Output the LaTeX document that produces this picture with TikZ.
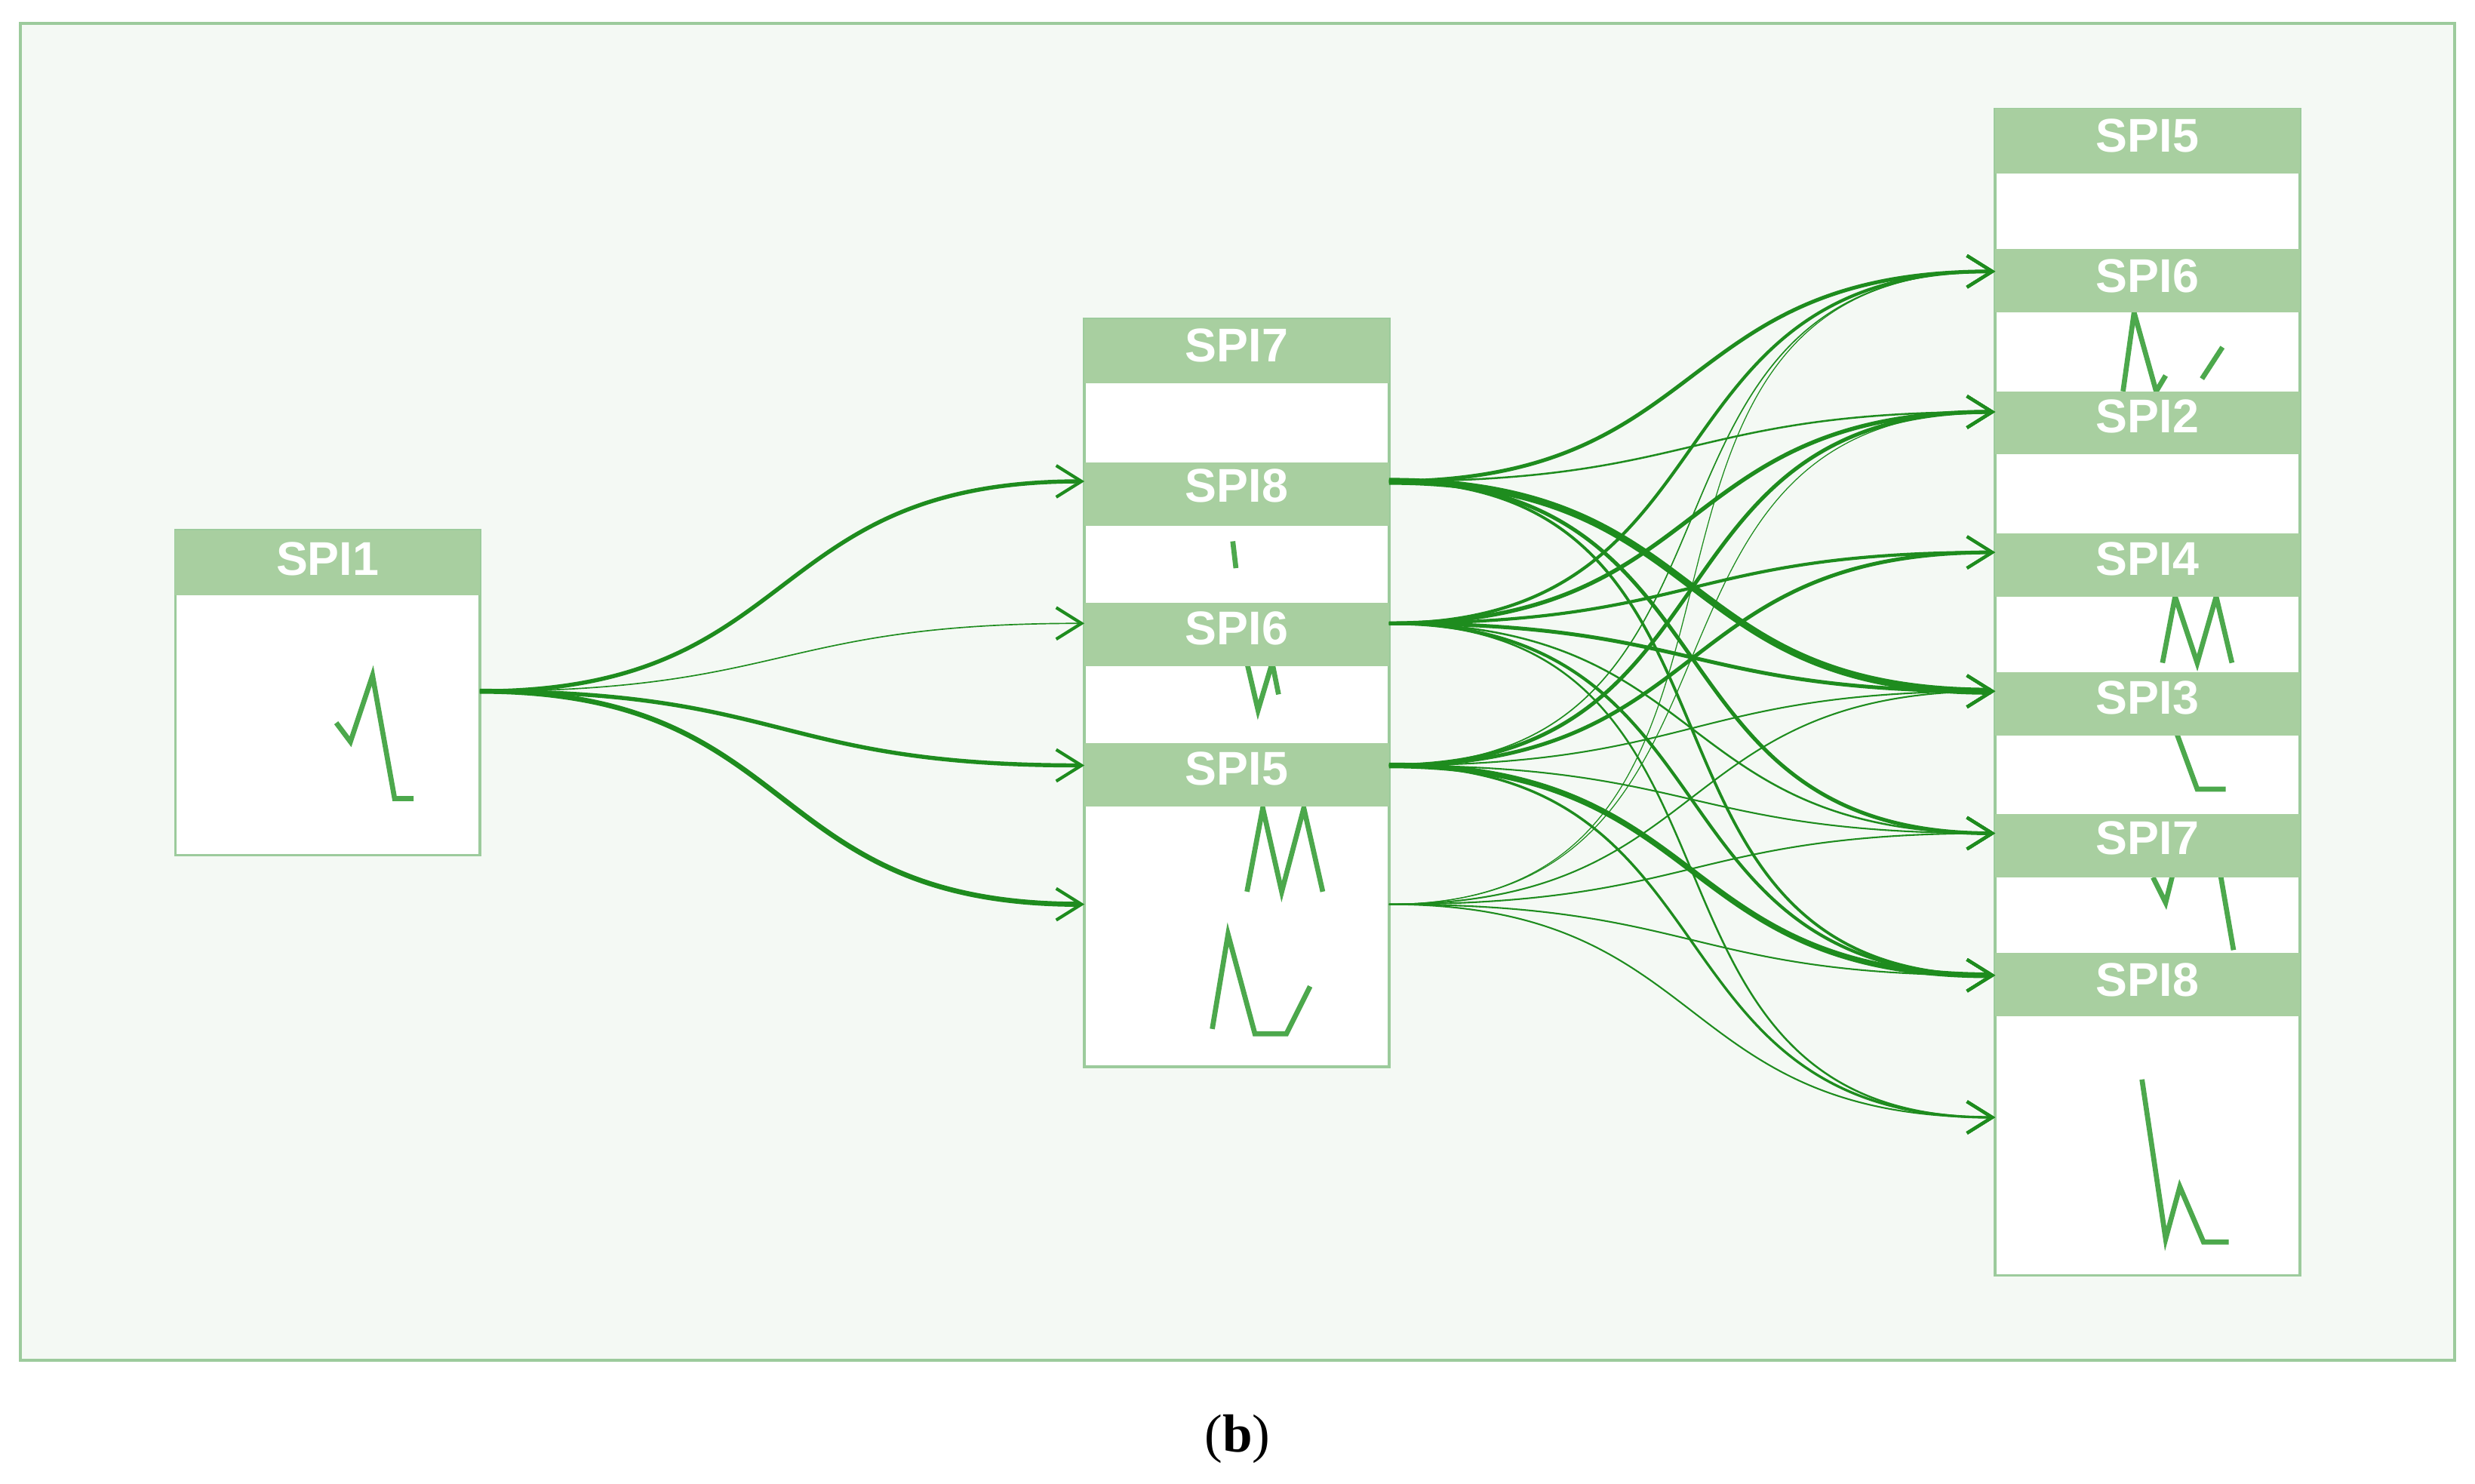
\documentclass[tikz,border=0pt]{standalone}
\usepackage{fontspec}
\setmainfont{Liberation Serif}
\newfontfamily\hdr{Liberation Sans}
\usetikzlibrary{arrows.meta}
\definecolor{bgc}{HTML}{F4F9F4}
\definecolor{frm}{HTML}{9CCB9C}
\definecolor{hdc}{HTML}{A8CFA0}
\definecolor{edg}{HTML}{1E8C1E}
\definecolor{spk}{HTML}{4CA84C}
\begin{document}
\begin{tikzpicture}[x=0.5pt,y=-0.5pt,
  box/.style={draw=frm,line width=0.8pt,fill=white},
  head/.style={fill=hdc,draw=none},
  htxt/.style={text=white,font=\hdr\bfseries\fontsize{15}{15}\selectfont,inner sep=0},
  spark/.style={draw=spk,line width=1.6pt},
  e/.style={draw=edg,line width=#1,-{Straight Barb[length=8pt,width=10pt,line width=1pt]}},
  e/.default=1pt]
\useasboundingbox (0,0) rectangle (1568,940);
\fill[bgc,draw=frm,line width=1pt] (13,15) rectangle (1555,862);
\node[font=\fontsize{17}{17}\selectfont] (cap) at (784,912) {(\textbf{b})};
% boxes
\draw[box] (111,336) rectangle (304,542);
\draw[box] (687,202) rectangle (880,676);
\draw[box] (1264,69) rectangle (1457,808);
% sparklines
\draw[spark] (213,458)--(222,470)--(236,428)--(250,506)--(262,506);
\draw[spark] (781,343)--(783,360);
\draw[spark] (790,420)--(797,450)--(806,420)--(810,440);
\draw[spark] (790,565)--(800,512)--(812,565)--(826,512)--(838,565);
\draw[spark] (768,652)--(778,592)--(795,655)--(815,655)--(830,625);
\draw[spark] (1345,248)--(1352,198)--(1366,248)--(1372,238);
\draw[spark] (1395,240)--(1408,220);
\draw[spark] (1370,420)--(1378,378)--(1392,420)--(1404,378)--(1414,420);
\draw[spark] (1378,462)--(1392,500)--(1410,500);
\draw[spark] (1364,556)--(1372,572)--(1378,548);
\draw[spark] (1406,550)--(1415,602);
\draw[spark] (1357,684)--(1372,785)--(1381,752)--(1396,787)--(1412,787);
% headers
\fill[head] (111,336) rectangle (304,377);
\node[htxt] (h1) at (207.5,354) {SPI1};
\fill[head] (687,202) rectangle (880,243); \node[htxt] (m7) at (783.5,219) {SPI7};
\fill[head] (687,293) rectangle (880,333); \node[htxt] (m8) at (783.5,308) {SPI8};
\fill[head] (687,382) rectangle (880,422); \node[htxt] (m6) at (783.5,398) {SPI6};
\fill[head] (687,471) rectangle (880,511); \node[htxt] (m5) at (783.5,487) {SPI5};
\fill[head] (1264,69) rectangle (1457,110); \node[htxt] (r5) at (1360.5,86) {SPI5};
\fill[head] (1264,158) rectangle (1457,198); \node[htxt] (r6) at (1360.5,175) {SPI6};
\fill[head] (1264,248) rectangle (1457,288); \node[htxt] (r2) at (1360.5,264) {SPI2};
\fill[head] (1264,338) rectangle (1457,378); \node[htxt] (r4) at (1360.5,354) {SPI4};
\fill[head] (1264,426) rectangle (1457,466); \node[htxt] (r3) at (1360.5,442) {SPI3};
\fill[head] (1264,516) rectangle (1457,556); \node[htxt] (r7) at (1360.5,531) {SPI7};
\fill[head] (1264,604) rectangle (1457,644); \node[htxt] (r8) at (1360.5,621) {SPI8};
% ports
\coordinate (s1) at (304,438);
\coordinate (a8) at (687,305); \coordinate (a6) at (687,395);
\coordinate (a5) at (687,485); \coordinate (ab) at (687,573);
\coordinate (o8) at (880,305); \coordinate (o6) at (880,395);
\coordinate (o5) at (880,485); \coordinate (ob) at (880,573);
\coordinate (t6) at (1264,172); \coordinate (t2) at (1264,261);
\coordinate (t4) at (1264,350); \coordinate (t3) at (1264,438);
\coordinate (t7) at (1264,528); \coordinate (t8) at (1264,618);
\coordinate (tb) at (1264,708);
\tikzset{c/.style={out=0,in=180,looseness=1.3}}
% first layer
\draw[e=1.3pt] (s1) to[c] (a8);
\draw[e=0.4pt] (s1) to[c] (a6);
\draw[e=1.3pt] (s1) to[c] (a5);
\draw[e=1.6pt] (s1) to[c] (ab);
% from SPI8
\draw[e=1.2pt] (o8) to[c] (t6);
\draw[e=0.6pt] (o8) to[c] (t2);
\draw[e=2.2pt] (o8) to[c] (t3);
\draw[e=1.2pt] (o8) to[c] (t7);
\draw[e=0.9pt] (o8) to[c] (t8);
% from SPI6
\draw[e=1pt] (o6) to[c] (t6);
\draw[e=1.3pt] (o6) to[c] (t2);
\draw[e=1pt] (o6) to[c] (t4);
\draw[e=1.2pt] (o6) to[c] (t3);
\draw[e=0.6pt] (o6) to[c] (t7);
\draw[e=1pt] (o6) to[c] (t8);
\draw[e=0.6pt] (o6) to[c] (tb);
% from SPI5
\draw[e=0.4pt] (o5) to[c] (t6);
\draw[e=1.2pt] (o5) to[c] (t2);
\draw[e=1.2pt] (o5) to[c] (t4);
\draw[e=0.5pt] (o5) to[c] (t3);
\draw[e=0.5pt] (o5) to[c] (t7);
\draw[e=1.8pt] (o5) to[c] (t8);
\draw[e=0.8pt] (o5) to[c] (tb);
% from bottom
\draw[e=0.3pt] (ob) to[c] (t6);
\draw[e=0.3pt] (ob) to[c] (t2);
\draw[e=0.5pt] (ob) to[c] (t3);
\draw[e=0.5pt] (ob) to[c] (t7);
\draw[e=0.5pt] (ob) to[c] (t8);
\draw[e=0.5pt] (ob) to[c] (tb);
\end{tikzpicture}
\end{document}
